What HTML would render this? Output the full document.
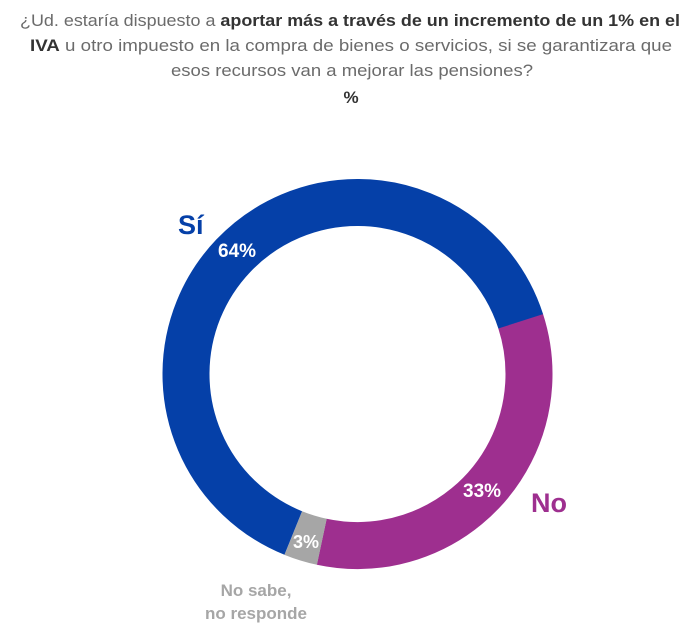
<!DOCTYPE html>
<html><head><meta charset="utf-8"><style>
html,body{margin:0;padding:0;background:#fff;}
svg{display:block;}
</style></head><body>
<svg width="700" height="637" viewBox="0 0 700 637" xmlns="http://www.w3.org/2000/svg" font-family="Liberation Sans, sans-serif">
<g font-size="17" fill="#6b6b6b">
<text x="20" y="26" textLength="660" lengthAdjust="spacingAndGlyphs">¿Ud. estaría dispuesto a <tspan font-weight="bold" fill="#333">aportar más a través de un incremento de un 1% en el</tspan></text>
<text x="30" y="51" textLength="642" lengthAdjust="spacingAndGlyphs"><tspan font-weight="bold" fill="#333">IVA</tspan> u otro impuesto en la compra de bienes o servicios, si se garantizara que</text>
<text x="171" y="76" textLength="362" lengthAdjust="spacingAndGlyphs">esos recursos van a mejorar las pensiones?</text>
<text x="351" y="103" text-anchor="middle" font-weight="bold" fill="#333">%</text>
</g>
<g transform="translate(357.5,374)" fill="none" stroke-width="47">
<circle r="171.5" stroke="#9e2f8f" stroke-dasharray="359.2 2000" transform="rotate(-18)"/>
<circle r="171.5" stroke="#a6a6a6" stroke-dasharray="29.9 2000" transform="rotate(102)"/>
<circle r="171.5" stroke="#0540a8" stroke-dasharray="688.5 2000" transform="rotate(112)"/>
</g>
<g font-weight="bold">
<text x="178" y="234" font-size="27" fill="#0540a8">Sí</text>
<text x="218" y="257" font-size="19" fill="#fff">64%</text>
<text x="463" y="497" font-size="19" fill="#fff">33%</text>
<text x="531" y="512" font-size="27" fill="#9e2f8f">No</text>
<text x="293" y="548" font-size="18" fill="#fff">3%</text>
<text x="256" y="596" font-size="17" fill="#a6a6a6" text-anchor="middle">No sabe,</text>
<text x="256" y="619" font-size="17" fill="#a6a6a6" text-anchor="middle">no responde</text>
</g>
</svg>
</body></html>
